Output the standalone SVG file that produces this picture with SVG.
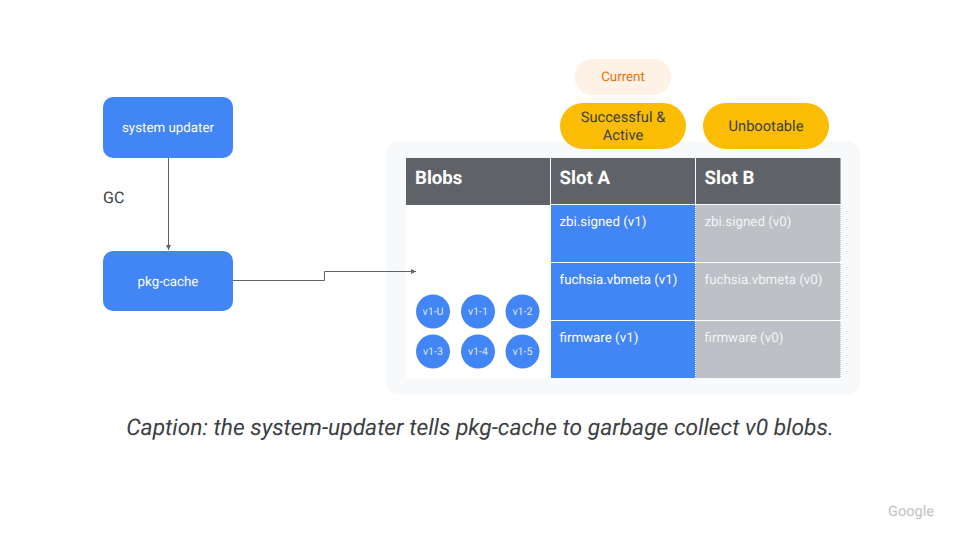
<svg xmlns="http://www.w3.org/2000/svg" width="960" height="540" viewBox="0 0 960 540">
<defs>
<marker id="arr" markerUnits="userSpaceOnUse" markerWidth="6" markerHeight="5" refX="5" refY="2.500" orient="auto"><path d="M0 0L5 2.500L0 5Z" fill="#5f6368"/></marker>
</defs>
<style>
text{font-family:Roboto,"Liberation Sans",sans-serif;text-rendering:geometricPrecision}
.node{fill:#4285f4}
.w{fill:#fff;font-size:13.330px}
.m{text-anchor:middle}
.h{fill:#fff;font-size:18.670px;font-weight:700}
.head{fill:#5f6368}
.blue{fill:#4285f4}
.gray{fill:#bdc1c6}
.c{fill:#fff;font-size:10.670px;text-anchor:middle;fill-opacity:.85}
.pill{fill:#fbbc04}
.d{fill:#3c4043;font-size:14.670px;text-anchor:middle}
.sep{stroke:#fff;stroke-width:1;fill:none}
.dash{stroke:#fff;stroke-width:1;stroke-dasharray:1 1;fill:none}
.conn{stroke:#5f6368;stroke-width:1;fill:none;marker-end:url(#arr)}
</style>
<rect width="960" height="540" fill="#fff"/>
<g id="panel">
<rect x="386" y="141" width="474" height="253" rx="12" fill="#f8f9fa"/>
<rect x="406" y="205" width="145" height="173" fill="#fff"/>
</g>
<g id="system-updater"><rect class="node" x="103" y="97" width="130" height="61" rx="10"/><text class="w m" x="168" y="132">system updater</text></g>
<g id="pkg-cache"><rect class="node" x="103" y="251" width="130" height="60" rx="10"/><text class="w m" x="168" y="286">pkg-cache</text></g>
<g id="gc-label"><text x="103" y="203" fill="#3c4043" font-size="16">GC</text></g>
<g id="connectors">
<path class="conn" d="M168.500 158V250"/>
<path class="conn" d="M233 280.500H324.500V271.500H416"/>
</g>
<g id="current"><rect x="574.500" y="59" width="96.500" height="36" rx="18" fill="#fef1e6"/><text x="623" y="81" fill="#e8710a" font-size="13.330" text-anchor="middle">Current</text></g>
<g id="successful-active"><rect class="pill" x="560" y="103" width="126" height="46" rx="23"/><text class="d" x="623" y="122">Successful &amp;</text><text class="d" x="623" y="140">Active</text></g>
<g id="unbootable"><rect class="pill" x="703" y="103" width="126" height="46" rx="23"/><text class="d" x="766" y="131">Unbootable</text></g>
<g id="table">
<rect class="head" x="406" y="158" width="144" height="47"/>
<rect class="head" x="551" y="158" width="144" height="46"/>
<rect class="head" x="696" y="158" width="144.500" height="46"/>
<text class="h" x="415" y="184">Blobs</text>
<text class="h" x="559.500" y="184">Slot A</text>
<text class="h" x="704.500" y="184">Slot B</text>
<rect class="blue" x="551" y="205" width="145" height="173"/>
<rect class="gray" x="695.500" y="205" width="145.500" height="173"/>
<path class="sep" d="M551 262.500H841M551 320.500H841"/>
<path class="dash" d="M695.500 205V378M840.500 205V378"/>
<text class="w" x="559.500" y="226">zbi.signed (v1)</text>
<text class="w" x="559.500" y="284">fuchsia.vbmeta (v1)</text>
<text class="w" x="559.500" y="342">firmware (v1)</text>
<text class="w" x="704.500" y="226" fill-opacity=".85">zbi.signed (v0)</text>
<text class="w" x="704.500" y="284" fill-opacity=".85">fuchsia.vbmeta (v0)</text>
<text class="w" x="704.500" y="342" fill-opacity=".85">firmware (v0)</text>
</g>
<g id="blob-v1-u"><circle class="blue" cx="433" cy="311.500" r="17"/><text class="c" x="433" y="315">v1-U</text></g>
<g id="blob-v1-1"><circle class="blue" cx="478" cy="311.500" r="17"/><text class="c" x="478" y="315">v1-1</text></g>
<g id="blob-v1-2"><circle class="blue" cx="522.500" cy="311.500" r="17"/><text class="c" x="522.500" y="315">v1-2</text></g>
<g id="blob-v1-3"><circle class="blue" cx="433" cy="351.500" r="17"/><text class="c" x="433" y="355">v1-3</text></g>
<g id="blob-v1-4"><circle class="blue" cx="478" cy="351.500" r="17"/><text class="c" x="478" y="355">v1-4</text></g>
<g id="blob-v1-5"><circle class="blue" cx="522.500" cy="351.500" r="17"/><text class="c" x="522.500" y="355">v1-5</text></g>
<text x="480" y="435" fill="#3c4043" font-size="22.800" font-style="italic" text-anchor="middle">Caption: the system-updater tells pkg-cache to garbage collect v0 blobs.</text>
<text x="911" y="516" fill="#bdc1c6" font-size="14.500" font-family="'Open Sans',sans-serif" text-anchor="middle">Google</text>
</svg>
